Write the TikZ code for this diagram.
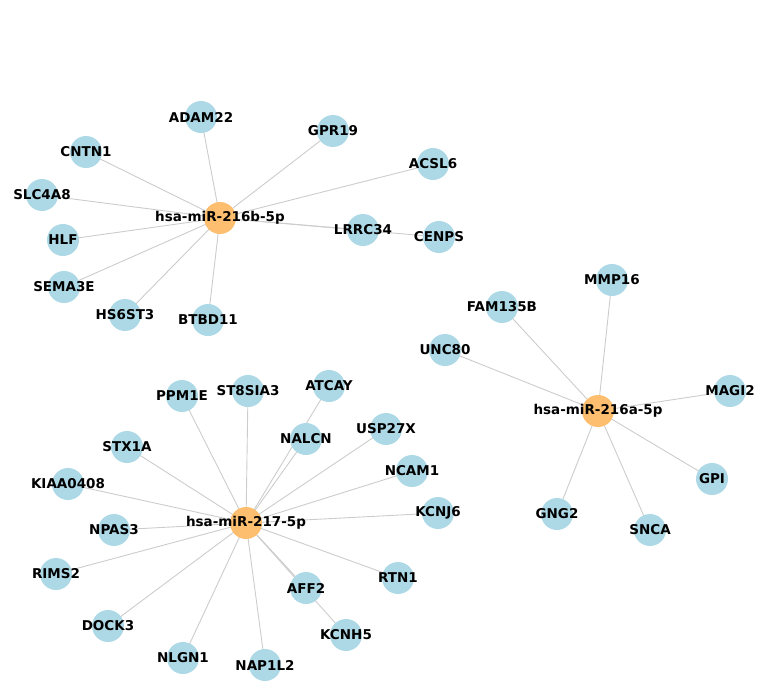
\documentclass[tikz,border=0pt]{standalone}
\usepackage{fontspec}
\setmainfont{DejaVu Sans}
\usetikzlibrary{backgrounds}

\definecolor{genecol}{RGB}{173,216,230}
\definecolor{hubcol}{RGB}{253,191,111}
\definecolor{edgecol}{RGB}{204,204,204}

\tikzset{
  gene/.style={circle, fill=genecol, minimum size=32pt, inner sep=0pt},
  hub/.style={gene, fill=hubcol},
  genelabel/.style={inner sep=0pt, font=\fontsize{13.5}{16}\selectfont\bfseries},
  link/.style={edgecol, line width=0.9pt}
}

\begin{document}
\begin{tikzpicture}[x=1pt, y=-1pt]
\useasboundingbox (0,0) rectangle (778,694);

% hubs
\node[hub] (m216b) at (220,218) {};
\node[hub] (m216a) at (598,411) {};
\node[hub] (m217) at (246,523) {};

\foreach \g/\x/\y in {ADAM22/201/117, GPR19/333/131, CNTN1/86/152, ACSL6/433/164, SLC4A8/42/195, HLF/63/240, LRRC34/363/230, CENPS/439/237, SEMA3E/64/287, HS6ST3/125/315, BTBD11/208/320}
  \node[gene] (\g) at (\x,\y) {};

\foreach \g/\x/\y in {MMP16/612/280, FAM135B/502/307, UNC80/445/350, MAGI2/730/391, GPI/712/479, GNG2/557/514, SNCA/650/530}
  \node[gene] (\g) at (\x,\y) {};

\foreach \g/\x/\y in {PPM1E/182/396, ST8SIA3/248/391, ATCAY/329/386, STX1A/127/447, NALCN/306/439, USP27X/386/429, KIAA0408/68/484, NCAM1/412/471, NPAS3/114/530, KCNJ6/438/513, RIMS2/56/574, RTN1/398/578, AFF2/306/588, DOCK3/108/626, KCNH5/346/635, NLGN1/183/658, NAP1L2/265/665}
  \node[gene] (\g) at (\x,\y) {};

\begin{scope}[on background layer]
\foreach \g in {ADAM22, GPR19, CNTN1, ACSL6, SLC4A8, HLF, LRRC34, CENPS, SEMA3E, HS6ST3, BTBD11}
  \draw[link] (m216b.center) -- (\g.center);
\foreach \g in {MMP16, FAM135B, UNC80, MAGI2, GPI, GNG2, SNCA}
  \draw[link] (m216a.center) -- (\g.center);
\foreach \g in {PPM1E, ST8SIA3, ATCAY, STX1A, NALCN, USP27X, KIAA0408, NCAM1, NPAS3, KCNJ6, RIMS2, RTN1, AFF2, DOCK3, KCNH5, NLGN1, NAP1L2}
  \draw[link] (m217.center) -- (\g.center);
\end{scope}

% labels on top
\node[genelabel] at (m216b) {hsa-miR-216b-5p};
\node[genelabel] at (m216a) {hsa-miR-216a-5p};
\node[genelabel] at (m217) {hsa-miR-217-5p};
\foreach \g in {ADAM22, GPR19, CNTN1, ACSL6, SLC4A8, HLF, LRRC34, CENPS, SEMA3E, HS6ST3, BTBD11, MMP16, FAM135B, UNC80, MAGI2, GPI, GNG2, SNCA, PPM1E, ST8SIA3, ATCAY, STX1A, NALCN, USP27X, KIAA0408, NCAM1, NPAS3, KCNJ6, RIMS2, RTN1, AFF2, DOCK3, KCNH5, NLGN1, NAP1L2}
  \node[genelabel] at (\g) {\g};
\end{tikzpicture}
\end{document}
